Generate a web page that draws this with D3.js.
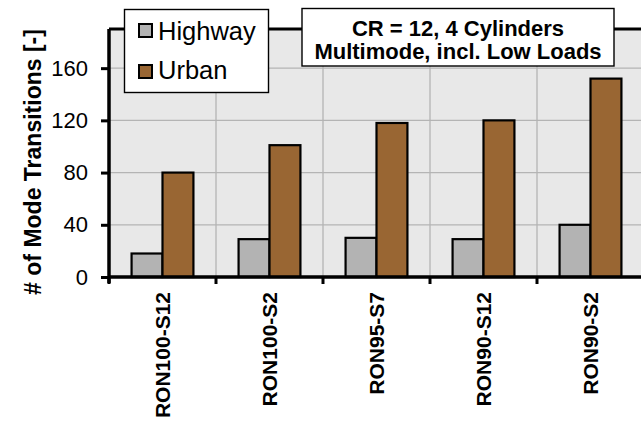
<!DOCTYPE html>
<html>
<head>
<meta charset="utf-8">
<script src="https://cdn.jsdelivr.net/npm/d3@7"></script>
<style>
  html, body { margin: 0; padding: 0; background: #ffffff; }
  svg { display: block; font-family: "Liberation Sans", Arial, sans-serif; }
</style>
</head>
<body>
<svg id="chart" width="641" height="423"></svg>
<script>
// Mode transition counts per fuel / strategy case
const categories = ["RON100-S12", "RON100-S2", "RON95-S7", "RON90-S12", "RON90-S2"];
const seriesNames = ["Highway", "Urban"];
const highway = [18, 29, 30, 29, 40];
const urban = [80, 101, 118, 120, 152];
const yTicks = [0, 40, 80, 120, 160];
const yTitle = "# of Mode Transitions [-]";
const noteLines = ["CR = 12, 4 Cylinders", "Multimode, incl. Low Loads"];

const colors = { Highway: "#b3b3b3", Urban: "#996633" };

const rows = categories.map((c, i) => ({ cat: c, Highway: highway[i], Urban: urban[i] }));

const svg = d3.select("#chart");
const plot = { left: 109, right: 644, top: 29, bottom: 277 };

const x0 = d3.scaleBand().domain(categories).range([plot.left, plot.right]).padding(0);
const x1 = d3.scaleBand().domain(seriesNames).range([0, x0.bandwidth()])
  .paddingInner(0).paddingOuter(0.73);
const y = d3.scaleLinear().domain([0, 190]).range([plot.bottom, plot.top]);

// plot background
svg.append("rect")
  .attr("x", plot.left).attr("y", plot.top)
  .attr("width", plot.right - plot.left).attr("height", plot.bottom - plot.top)
  .attr("fill", "#e8e8e8");

// horizontal grid
svg.append("g").selectAll("line").data(yTicks.filter(d => d > 0)).join("line")
  .attr("x1", plot.left).attr("x2", plot.right)
  .attr("y1", d => y(d)).attr("y2", d => y(d))
  .attr("stroke", "#b4b4b4").attr("stroke-width", 1.3);

// vertical grid at category boundaries
svg.append("g").selectAll("line").data(categories.slice(1)).join("line")
  .attr("x1", d => x0(d)).attr("x2", d => x0(d))
  .attr("y1", plot.top).attr("y2", plot.bottom)
  .attr("stroke", "#b4b4b4").attr("stroke-width", 1.3);

// bars
const groups = svg.append("g").selectAll("g").data(rows).join("g")
  .attr("transform", d => `translate(${x0(d.cat)},0)`);
groups.selectAll("rect").data(d => seriesNames.map(s => ({ s, v: d[s] }))).join("rect")
  .attr("x", d => x1(d.s))
  .attr("y", d => y(d.v))
  .attr("width", x1.bandwidth())
  .attr("height", d => y(0) - y(d.v))
  .attr("fill", d => colors[d.s])
  .attr("stroke", "#000").attr("stroke-width", 2.2);

// top frame line
svg.append("line")
  .attr("x1", plot.left).attr("x2", plot.right)
  .attr("y1", plot.top).attr("y2", plot.top)
  .attr("stroke", "#000").attr("stroke-width", 3);

// y axis
const yAxis = svg.append("g").attr("transform", `translate(${plot.left},0)`)
  .call(d3.axisLeft(y).tickValues(yTicks).tickSize(8).tickPadding(13));
yAxis.select(".domain").attr("stroke-width", 3.5).attr("d", `M0,${plot.top}V${plot.bottom + 6}`);
yAxis.selectAll(".tick line").attr("stroke-width", 3);
yAxis.selectAll(".tick text")
  .attr("font-size", 22).attr("fill", "#000")
  .attr("font-family", "Liberation Sans, Arial, sans-serif");

// x axis: ticks at category boundaries
const bounds = categories.map(c => x0(c)).concat([plot.right]);
svg.append("line")
  .attr("x1", plot.left).attr("x2", plot.right)
  .attr("y1", plot.bottom).attr("y2", plot.bottom)
  .attr("stroke", "#000").attr("stroke-width", 3.5);
svg.append("g").selectAll("line").data(bounds).join("line")
  .attr("x1", d => d).attr("x2", d => d)
  .attr("y1", plot.bottom).attr("y2", plot.bottom + 7)
  .attr("stroke", "#000").attr("stroke-width", 3);

// category labels, rotated
svg.append("g").selectAll("text").data(categories).join("text")
  .attr("transform", d => `translate(${x0(d) + x0.bandwidth() / 2},292) rotate(-90)`)
  .attr("dy", "0.36em")
  .attr("text-anchor", "end")
  .attr("font-size", 21).attr("font-weight", "bold")
  .text(d => d);

// y axis title
svg.append("text")
  .attr("transform", "translate(41,162) rotate(-90)")
  .attr("text-anchor", "middle")
  .attr("font-size", 23).attr("font-weight", "bold")
  .text(yTitle);

// legend
const legend = svg.append("g");
legend.append("rect")
  .attr("x", 124.5).attr("y", 9.5).attr("width", 144).attr("height", 83)
  .attr("fill", "#fff").attr("stroke", "#000").attr("stroke-width", 1.4);
const legendRows = [
  { name: seriesNames[0], sy: 24, ty: 40 },
  { name: seriesNames[1], sy: 65, ty: 79 }
];
legend.selectAll("rect.sw").data(legendRows).join("rect")
  .attr("class", "sw")
  .attr("x", 139).attr("y", d => d.sy).attr("width", 13).attr("height", 13)
  .attr("fill", d => colors[d.name]).attr("stroke", "#000").attr("stroke-width", 2);
legend.selectAll("text").data(legendRows).join("text")
  .attr("x", 158).attr("y", d => d.ty)
  .attr("font-size", 25.5)
  .text(d => d.name);

// annotation box
const note = svg.append("g");
note.append("rect")
  .attr("x", 302).attr("y", 8.5).attr("width", 312).attr("height", 57.5)
  .attr("fill", "#fff").attr("stroke", "#000").attr("stroke-width", 1.4);
note.selectAll("text").data(noteLines).join("text")
  .attr("x", 458).attr("y", (d, i) => 35.5 + i * 23.5)
  .attr("text-anchor", "middle")
  .attr("font-size", 22).attr("font-weight", "bold")
  .text(d => d);
</script>
</body>
</html>
